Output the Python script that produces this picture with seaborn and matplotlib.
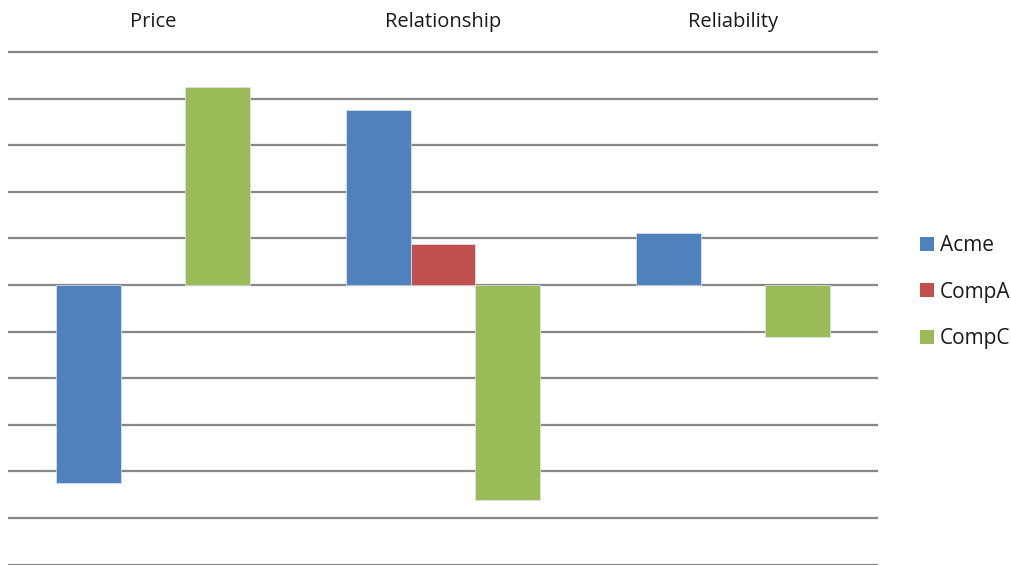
import matplotlib
matplotlib.use("Agg")
import matplotlib.pyplot as plt
import seaborn as sns
import pandas as pd

# Scores by category for each company (positive = advantage, negative = gap)
categories = ["Price", "Relationship", "Reliability"]
companies = ["Acme", "CompA", "CompC"]
acme = [-4.24, 3.75, 1.12]
comp_a = [0.0, 0.87, 0.0]
comp_c = [4.24, -4.61, -1.12]
colors = ["#4F81BD", "#C0504D", "#9BBB59"]

df = pd.DataFrame({
    "category": categories * 3,
    "company": [c for c in companies for _ in categories],
    "value": acme + comp_a + comp_c,
})

sns.set_theme(style="white")
plt.rcParams["font.family"] = ["Open Sans", "DejaVu Sans"]

fig = plt.figure(figsize=(10.12, 5.65), dpi=100)
top_px, bottom_px = 49.7, 564.5
ax = fig.add_axes([8 / 1012, (565 - bottom_px) / 565,
                   870 / 1012, (bottom_px - top_px) / 565])

sns.barplot(data=df, x="category", y="value", hue="company",
            hue_order=companies, palette=colors, width=0.67,
            edgecolor="#dfe6ef", linewidth=0.5, saturation=1, ax=ax,
            zorder=3)

# hide the zero-height bars so their edges don't cover the zero line
for p in ax.patches:
    if p.get_width() > 0 and abs(p.get_height()) < 1e-9:
        p.set_visible(False)

ax.set_ylim(-6, 5.05)
ax.set_xlim(-0.5, 2.5)
ax.set_yticks(range(-6, 6))
ax.yaxis.grid(True, color="#878787", linewidth=1.6, zorder=0)
ax.set_axisbelow(True)
ax.tick_params(axis="y", left=False, labelleft=False, length=0)
ax.xaxis.tick_top()
ax.tick_params(axis="x", top=False, bottom=False, length=0, pad=13,
               labelsize=14.5, labelcolor="#1a1a1a")
ax.set_xlabel("")
ax.set_ylabel("")
for s in ax.spines.values():
    s.set_visible(False)

leg = ax.legend(loc="center left", bbox_to_anchor=(911.5 / 1012, 1 - 292 / 565),
                bbox_transform=fig.transFigure, frameon=False, fontsize=15,
                handlelength=0.67, handleheight=0.67, handletextpad=0.3,
                labelspacing=1.22, borderaxespad=0)
for h in leg.legend_handles:
    h.set_visible(True)
    h.set_edgecolor("none")
for t in leg.get_texts():
    t.set_color("#1a1a1a")

fig.savefig("out.png", dpi=100, facecolor="white")
